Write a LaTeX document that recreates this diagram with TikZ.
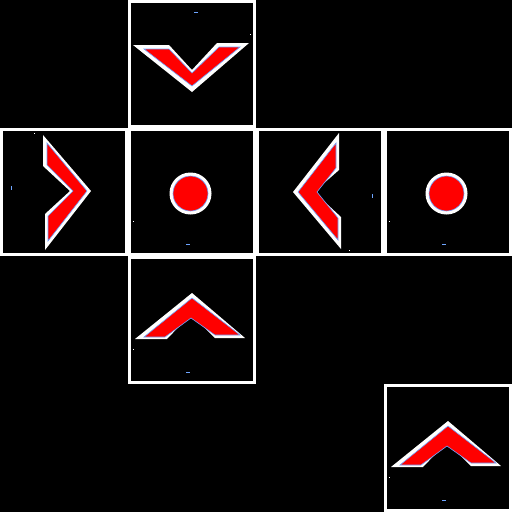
\documentclass[tikz,border=0pt]{standalone}
\definecolor{edgeblue}{RGB}{110,165,255}
\tikzset{
  tileframe/.style={draw=white, line width=3pt},
  halo/.style={fill=white},
  chev/.style={fill=red, draw=edgeblue, line width=0.6pt, line join=miter},
  dotred/.style={fill=red, draw=edgeblue, line width=0.6pt},
  tick/.style={draw=edgeblue, line width=1pt},
  speck/.style={fill=white}
}
\begin{document}
\begin{tikzpicture}[x=1pt,y=-1pt]
\fill[black] (0,0) rectangle (512,512);
\useasboundingbox (0,0) rectangle (512,512);
% tile frames
\foreach \ox/\oy in {128/0,0/128,128/128,256/128,384/128,128/256,384/384}
  \draw[tileframe] (\ox+1.5,\oy+1.5) rectangle (\ox+126.5,\oy+126.5);
% top tile: downward chevron
\begin{scope}[shift={(128,0)}]
  \fill[halo] (5,45) -- (41,45) -- (64,70) -- (89,43) -- (121,43) -- (64,92) -- cycle;
  \filldraw[chev] (16,49) -- (41,49) -- (64,73) -- (91,47) -- (112,47) -- (64,86) -- cycle;
  \draw[tick] (66,12) -- (70,12);
  \fill[speck] (121.5,33.5) rectangle (122.5,34.5);
\end{scope}
% left tile: right-pointing chevron
\begin{scope}[shift={(0,128)}]
  \fill[halo] (43,7) -- (91,63) -- (45,122) -- (45,86) -- (70,63) -- (43,38) -- cycle;
  \filldraw[chev] (47,15) -- (87,63) -- (48,113) -- (48,88) -- (73,63) -- (47,37) -- cycle;
  \draw[tick] (11,58) -- (11,62);
  \fill[speck] (33.5,4.5) rectangle (34.5,5.5);
\end{scope}
% centre tile: dot
\begin{scope}[shift={(128,128)}]
  \fill[halo] (62.5,65.5) circle[radius=21];
  \filldraw[dotred] (62.5,65.5) circle[radius=17.5];
  \draw[tick] (58,116) -- (62,116);
  \fill[speck] (4.5,92.5) rectangle (5.5,93.5);
\end{scope}
% third tile: left-pointing chevron
\begin{scope}[shift={(256,128)}]
  \fill[halo] (83,5) -- (37,64) -- (85,121) -- (85,89) -- (58,64) -- (83,42) -- cycle;
  \filldraw[chev] (80,15) -- (42,64) -- (82,112) -- (82,90) -- (61,64) -- (80,40) -- cycle;
  \draw[tick] (116,66) -- (116,70);
  \fill[speck] (92.5,121.5) rectangle (93.5,122.5);
\end{scope}
% fourth tile: dot
\begin{scope}[shift={(384,128)}]
  \fill[halo] (62.5,65.5) circle[radius=21];
  \filldraw[dotred] (62.5,65.5) circle[radius=17.5];
  \draw[tick] (58,116) -- (62,116);
  \fill[speck] (4.5,92.5) rectangle (5.5,93.5);
\end{scope}
% lower tiles: upward chevrons
\foreach \ox/\oy in {128/256,384/384}{
\begin{scope}[shift={(\ox,\oy)}]
  \fill[halo] (64,37) -- (117,82) -- (87,82) -- (63,58) -- (39,83) -- (7,83) -- cycle;
  \filldraw[chev] (64,42) -- (112,79) -- (87,79) -- (63,62) -- (37,81) -- (16,81) -- cycle;
  \draw[tick] (58,116) -- (62,116);
  \fill[speck] (4.5,92.5) rectangle (5.5,93.5);
\end{scope}}
\end{tikzpicture}
\end{document}
